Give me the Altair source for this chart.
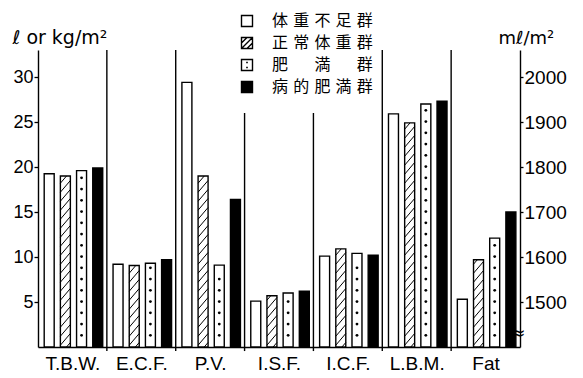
import json
import altair as alt
import numpy as np
import pandas as pd

# ---------------- data ----------------
categories = ["T.B.W.", "E.C.F.", "P.V.", "I.S.F.", "I.C.F.", "L.B.M.", "Fat"]
groups = ["体重不足群", "正常体重群", "肥満群", "病的肥満群"]
G = "\u2009\u200a\u200a"
legend_labels = [G.join("体重不足群"), G.join("正常体重群"),
                 G.join(["肥", "\u3000", "満", "\u3000", "群"]), G.join("病的肥満群")]

tbw = [19.25, 19.0, 19.6, 19.9]
ecf = [9.2, 9.05, 9.3, 9.7]
pv_ml = [1988, 1780, 1582, 1728]      # right axis, ml/m2
isf = [5.1, 5.7, 6.0, 6.2]
icf = [10.1, 10.9, 10.4, 10.2]
lbm = [25.9, 24.9, 27.0, 27.3]
fat = [5.3, 9.7, 12.1, 15.0]

left_ticks = [5, 10, 15, 20, 25, 30]
right_ticks = [1500, 1600, 1700, 1800, 1900, 2000]
sep_tops = [33, 33, 26, 26, 33, 33]

# ---------------- layout constants ----------------
LEFT_DOM = [0, 33]
RIGHT_DOM = [1400, 1400 + 33 * 20]
ML_PER_UNIT = 20.0
OFF, PITCH, BW = 0.09, 0.235, 0.145
fill_of = {groups[0]: "white", groups[1]: "white", groups[2]: "white", groups[3]: "black"}

values_by_cat = [tbw, ecf, pv_ml, isf, icf, lbm, fat]

bar_rows, hatch_rows, dot_rows = [], [], []
for ci, (cat, vals) in enumerate(zip(categories, values_by_cat)):
    is_pv = cat == "P.V."
    unit = ML_PER_UNIT if is_pv else 1.0
    base = RIGHT_DOM[0] if is_pv else 0.0
    for gi, (g, v) in enumerate(zip(groups, vals)):
        x0 = ci + OFF + gi * PITCH
        x1 = x0 + BW
        bar_rows.append(dict(cat=cat, group=g, x0=x0, x1=x1, v=v, base=base,
                             fillc=fill_of[g], pv=is_pv))
        h = v - base
        if gi == 1:  # hatched
            rise, step = 1.3 * unit, 1.0 * unit
            for c in np.arange(-rise + 0.5 * step, h, step):
                t0 = max(0.0, -c / rise)
                t1 = min(1.0, (h - c) / rise)
                if t1 <= t0:
                    continue
                hatch_rows.append(dict(pv=is_pv,
                                       xa=x0 + t0 * BW, xb=x0 + t1 * BW,
                                       ya=base + c + t0 * rise, yb=base + c + t1 * rise))
        if gi == 2:  # dotted
            for yy in np.arange(1.3 * unit, h - 0.4 * unit, 1.25 * unit):
                dot_rows.append(dict(pv=is_pv, xc=x0 + BW / 2, yc=base + yy))

bars = pd.DataFrame(bar_rows)
hatch = pd.DataFrame(hatch_rows)
dots = pd.DataFrame(dot_rows)
seps = pd.DataFrame({"xs": [i + 1 for i in range(len(sep_tops))], "top": sep_tops,
                     "bot": [-0.45] * len(sep_tops)})

# ---------------- scales / axes ----------------
xscale = alt.Scale(domain=[0, len(categories)], nice=False, zero=False)
yL = alt.Scale(domain=LEFT_DOM, nice=False, zero=False)
yR = alt.Scale(domain=RIGHT_DOM, nice=False, zero=False)

label_expr = json.dumps(categories) + "[floor(datum.value)]"
xaxis = alt.Axis(values=[i + 0.5 for i in range(len(categories))], labelExpr=label_expr,
                 ticks=False, grid=False, domainColor="black", domainWidth=1.4,
                 labelFontSize=19, labelPadding=7, labelColor="black",
                 labelFont="Liberation Sans", title=None)

yaxisL = alt.Axis(values=left_ticks, grid=False, tickSize=4, tickWidth=1.3, tickColor="black",
                  domainColor="black", domainWidth=1.4, labelFontSize=18, labelColor="black",
                  labelFont="Liberation Sans", labelPadding=1, format="d",
                  title="ℓ or kg/m²", titleAngle=0, titleAlign="left", titleBaseline="alphabetic",
                  titleX=-26, titleY=-7, titleFontSize=19, titleFontWeight="normal",
                  titleFont="DejaVu Sans", titleColor="black")

yaxisR = alt.Axis(values=right_ticks, orient="right", grid=False, tickSize=3, tickWidth=1.3,
                  tickColor="black", domainColor="black", domainWidth=1.4, labelFontSize=19,
                  labelColor="black", labelFont="Liberation Sans", labelPadding=1, format="d",
                  title="mℓ/m²", titleAngle=0, titleAlign="left", titleBaseline="alphabetic",
                  titleX=-22, titleY=-7, titleFontSize=18, titleFontWeight="normal",
                  titleFont="DejaVu Sans", titleColor="black")

# legend symbols (custom paths in the [-1, 1] box)
sym_paths = [
    "M-1,-1H1V1H-1Z",
    "M-1,-1H1V1H-1Z M-1,1L1,-1 M-1,0L0,-1 M0,1L1,0",
    "M-1,-1H1V1H-1Z M-0.15,-0.45H0.15 M-0.15,0.45H0.15",
    "M-1,-1H1V1H-1Z",
]
legend_expr = (json.dumps(legend_labels, ensure_ascii=False) + "[indexof("
               + json.dumps(groups, ensure_ascii=False) + ", datum.label)]")
leg = alt.Legend(title=None, orient="none", legendX=201, legendY=-37,
                 labelExpr=legend_expr, labelFont="Noto Sans CJK JP", labelFontSize=16,
                 labelColor="black", labelOffset=17, symbolSize=121,
                 symbolStrokeColor="black", symbolStrokeWidth=1.4, symbolOpacity=1,
                 rowPadding=4)

# ---------------- left (ℓ or kg/m2) layers ----------------
bl = bars[~bars.pv]
hl = hatch[~hatch.pv]
dl = dots[~dots.pv]

XL = lambda f: alt.X(f, scale=xscale, axis=xaxis)
YLf = lambda f: alt.Y(f, scale=yL, axis=yaxisL)
YRf = lambda f: alt.Y(f, scale=yR, axis=yaxisR)

bars_left = alt.Chart(bl).mark_bar(stroke="black", strokeWidth=1.4).encode(
    x=XL("x0:Q"), x2="x1:Q", y=YLf("v:Q"), y2="base:Q",
    fill=alt.Fill("fillc:N", scale=None),
)
hatch_left = alt.Chart(hl).mark_rule(color="black", strokeWidth=1).encode(
    x=XL("xa:Q"), x2="xb:Q", y=YLf("ya:Q"), y2="yb:Q",
)
dots_left = alt.Chart(dl).mark_circle(color="black", size=8, opacity=1).encode(
    x=XL("xc:Q"), y=YLf("yc:Q"),
)
sep_layer = alt.Chart(seps).mark_rule(color="black", strokeWidth=1.4).encode(
    x=XL("xs:Q"), y=YLf("top:Q"), y2="bot:Q",
)
legend_layer = alt.Chart(pd.DataFrame({"group": groups})).mark_point(
    filled=True, opacity=0, stroke="black").encode(
    x=XL("zero:Q"), y=YLf("zero:Q"),
    shape=alt.Shape("group:N", scale=alt.Scale(domain=groups, range=sym_paths), legend=leg),
    fill=alt.Fill("group:N", scale=alt.Scale(domain=groups, range=[fill_of[g] for g in groups]),
                  legend=leg),
).transform_calculate(zero="0")
break_mark = alt.Chart(pd.DataFrame({"bx": [len(categories)], "by": [1.45]})).mark_text(
    text="≈", fontSize=18, color="black", font="DejaVu Sans", dx=-2).encode(
    x=XL("bx:Q"), y=YLf("by:Q"),
)

left = alt.layer(bars_left, hatch_left, dots_left, sep_layer, legend_layer, break_mark)

# ---------------- right (ml/m2) layers : P.V. ----------------
br = bars[bars.pv]
hr = hatch[hatch.pv]
dr = dots[dots.pv]

bars_right = alt.Chart(br).mark_bar(stroke="black", strokeWidth=1.4).encode(
    x=XL("x0:Q"), x2="x1:Q", y=YRf("v:Q"), y2="base:Q",
    fill=alt.Fill("fillc:N", scale=None),
)
hatch_right = alt.Chart(hr).mark_rule(color="black", strokeWidth=1).encode(
    x=XL("xa:Q"), x2="xb:Q", y=YRf("ya:Q"), y2="yb:Q",
)
dots_right = alt.Chart(dr).mark_circle(color="black", size=8, opacity=1).encode(
    x=XL("xc:Q"), y=YRf("yc:Q"),
)
right = alt.layer(bars_right, hatch_right, dots_right)

chart = alt.layer(left, right).resolve_scale(y="independent").properties(
    width=482, height=297,
    autosize=alt.AutoSizeParams(type="none"),
    padding={"left": 30, "top": 42, "right": 55, "bottom": 28},
    background="white",
).configure_view(stroke=None)

chart.save("out.html", embed_options={"renderer": "svg", "actions": False})
